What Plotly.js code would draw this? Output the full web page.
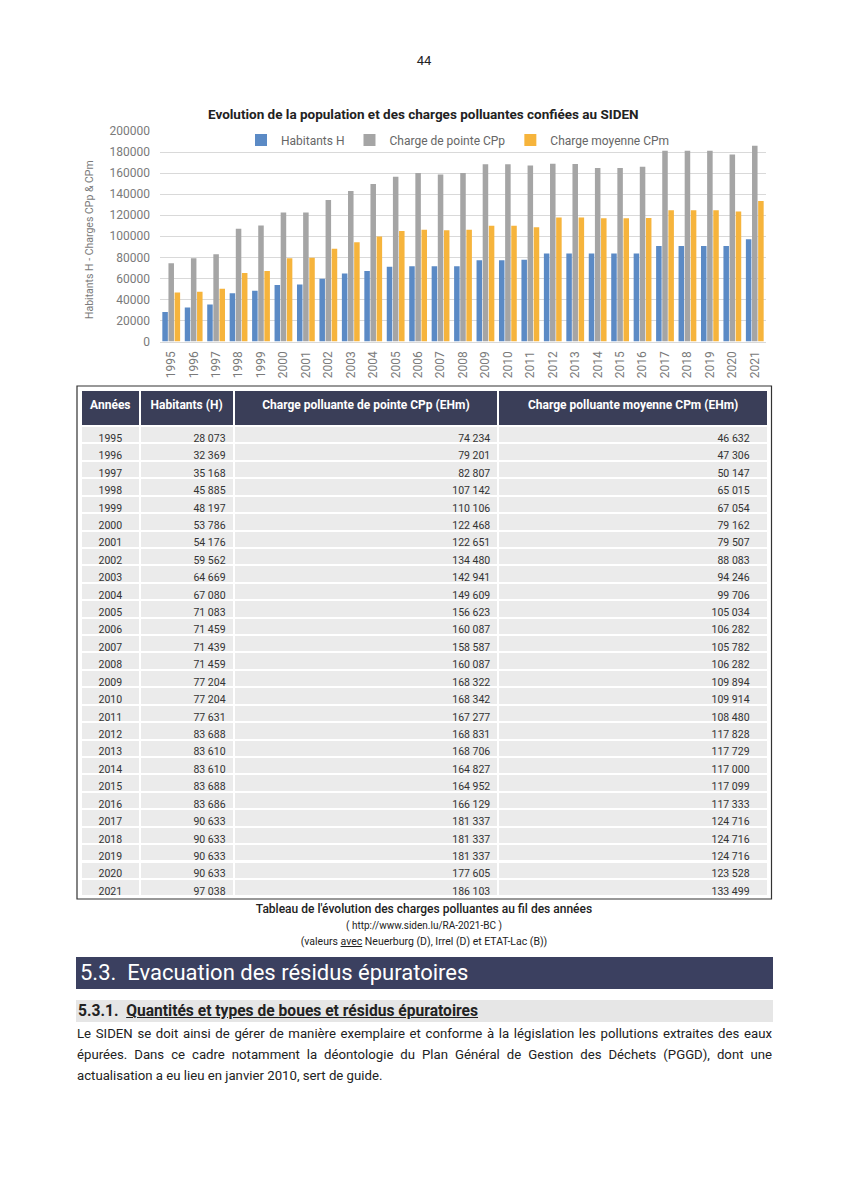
<!DOCTYPE html>
<html>
<head>
<meta charset="utf-8">
<script src="https://cdn.plot.ly/plotly-3.0.1.min.js"></script>
<style>
  html, body { margin: 0; padding: 0; background: #fff; }
  #page { position: relative; width: 848px; height: 1199px; overflow: hidden; font-family: Roboto, "Open Sans", sans-serif; color: #222; }
  #plot { position: absolute; left: 0; top: 0; width: 848px; height: 1199px; }
  .t { position: absolute; white-space: nowrap; }
  .center { left: 0; width: 848px; text-align: center; }
  .bar { position: absolute; }
  .para { position: absolute; left: 77px; width: 695px; font-size: 13.2px; line-height: 21px; color: #222; }
  .just { text-align: justify; text-align-last: justify; white-space: nowrap; }
</style>
</head>
<body>
<div id="page">
  <div id="plot"></div>
  <div class="t center" style="top:53px;font-size:13px;">44</div>
  <div class="t center" style="top:902px;font-size:12px;font-weight:500;">Tableau de l'évolution des charges polluantes au fil des années</div>
  <div class="t center" style="top:920px;font-size:10px;">( http://www.siden.lu/RA-2021-BC )</div>
  <div class="t center" style="top:935px;font-size:10.5px;">(valeurs <u>avec</u> Neuerburg (D), Irrel (D) et ETAT-Lac (B))</div>
  <div class="bar" style="left:76px;top:957px;width:697px;height:32px;background:#3b4060;"></div>
  <div class="t" style="left:80px;top:959px;font-size:22px;color:#fff;line-height:28px;">5.3.&nbsp;&nbsp;Evacuation des résidus épuratoires</div>
  <div class="bar" style="left:76px;top:1000px;width:697px;height:22px;background:#e6e6e6;"></div>
  <div class="t" style="left:78px;top:1001px;font-size:15.6px;font-weight:bold;line-height:21px;">5.3.1.&nbsp;&nbsp;<u>Quantités et types de boues et résidus épuratoires</u></div>
  <div class="para" style="top:1023px;">
    <div class="just">Le SIDEN se doit ainsi de gérer de manière exemplaire et conforme à la législation les pollutions extraites des eaux</div>
    <div class="just">épurées. Dans ce cadre notamment la déontologie du Plan Général de Gestion des Déchets (PGGD), dont une</div>
    <div>actualisation a eu lieu en janvier 2010, sert de guide.</div>
  </div>
</div>
<script>
const years = ['1995','1996','1997','1998','1999','2000','2001','2002','2003','2004','2005','2006','2007','2008','2009','2010','2011','2012','2013','2014','2015','2016','2017','2018','2019','2020','2021'];
const habitants = [28073,32369,35168,45885,48197,53786,54176,59562,64669,67080,71083,71459,71439,71459,77204,77204,77631,83688,83610,83610,83688,83686,90633,90633,90633,90633,97038];
const chargePointe = [74234,79201,82807,107142,110106,122468,122651,134480,142941,149609,156623,160087,158587,160087,168322,168342,167277,168831,168706,164827,164952,166129,181337,181337,181337,177605,186103];
const chargeMoyenne = [46632,47306,50147,65015,67054,79162,79507,88083,94246,99706,105034,106282,105782,106282,109894,109914,108480,117828,117729,117000,117099,117333,124716,124716,124716,123528,133499];
const seriesNames = ['Habitants H','Charge de pointe CPp','Charge moyenne CPm'];
const tableHeaders = ['Années','Habitants (H)','Charge polluante de pointe CPp (EHm)','Charge polluante moyenne CPm (EHm)'];

const fmt = n => n.toString().replace(/\B(?=(\d{3})+(?!\d))/g, '\u00a0');
const pad = s => s + '\u00a0\u00a0\u00a0\u00a0';

const W = 848, H = 1199;
const px = x => x / W;
const py = y => 1 - y / H;

const gridColor = '#d9d9d9';
const tickFont = {family: 'Roboto, sans-serif', size: 12, color: '#7a7a7a'};

const traces = [
  {type: 'bar', x: years, y: habitants, name: seriesNames[0], marker: {color: '#5b8ac5'}, hoverinfo: 'none'},
  {type: 'bar', x: years, y: chargePointe, name: seriesNames[1], marker: {color: '#a5a5a5'}, hoverinfo: 'none'},
  {type: 'bar', x: years, y: chargeMoyenne, name: seriesNames[2], marker: {color: '#f6b43c'}, hoverinfo: 'none'},
  {
    type: 'table',
    domain: {x: [px(81), px(768)], y: [py(898), py(390)]},
    columnwidth: [58, 93, 262, 267],
    header: {
      values: tableHeaders.map(h => '<b>' + h + '</b>'),
      align: 'center',
      height: 36,
      fill: {color: '#3a3e58'},
      line: {color: '#ffffff', width: 2},
      font: {family: 'Roboto, sans-serif', size: 12, color: '#ffffff'}
    },
    cells: {
      values: [years, habitants.map(fmt), chargePointe.map(fmt), chargeMoyenne.map(v => pad(fmt(v)))],
      align: ['center', 'right', 'right', 'right'],
      height: 17.42,
      fill: {color: '#ebebeb'},
      line: {color: '#ffffff', width: 2},
      font: {family: 'Roboto, sans-serif', size: 10.5, color: '#333333'}
    }
  }
];

const layout = {
  width: W, height: H,
  margin: {l: 0, r: 0, t: 0, b: 0},
  paper_bgcolor: '#ffffff', plot_bgcolor: '#ffffff',
  showlegend: true,
  barmode: 'group',
  bargap: 0.18,
  bargroupgap: 0.1,
  font: {family: 'Roboto, sans-serif'},
  xaxis: {
    domain: [px(160), px(766)],
    anchor: 'y',
    type: 'category',
    tickangle: -90,
    tickfont: tickFont,
    showgrid: false,
    showline: true,
    linecolor: gridColor,
    ticks: '',
    ticklabelstandoff: 4,
    fixedrange: true
  },
  yaxis: {
    domain: [py(341.5), py(131)],
    anchor: 'x',
    range: [0, 200000],
    tickvals: [0,20000,40000,60000,80000,100000,120000,140000,160000,180000,200000],
    ticktext: ['0','20000','40000','60000','80000','100000','120000','140000','160000','180000','200000'],
    tickfont: tickFont,
    showgrid: true,
    gridcolor: gridColor,
    gridwidth: 1,
    zeroline: false,
    showline: false,
    ticks: '',
    ticklabelstandoff: 9,
    fixedrange: true
  },
  legend: {
    orientation: 'h',
    x: px(458), xanchor: 'center',
    y: py(140), yanchor: 'middle',
    font: {family: 'Roboto, sans-serif', size: 12, color: '#666666'},
    bgcolor: 'rgba(255,255,255,0)',
    itemwidth: 30,
    traceorder: 'normal'
  },
  annotations: [
    {text: '<b>Evolution de la population et des charges polluantes confiées au SIDEN</b>', xref: 'paper', yref: 'paper',
     x: px(423), y: py(114), xanchor: 'center', yanchor: 'middle', showarrow: false,
     font: {family: 'Roboto, sans-serif', size: 13.5, color: '#222222'}},
    {text: 'Habitants H - Charges CPp & CPm', xref: 'paper', yref: 'paper', textangle: -90,
     x: px(90), y: py(240), xanchor: 'center', yanchor: 'middle', showarrow: false,
     font: {family: 'Roboto, sans-serif', size: 10.5, color: '#7a7a7a'}}
  ],
  shapes: [
    {type: 'rect', xref: 'paper', yref: 'paper', x0: px(77), x1: px(771.5), y0: py(899), y1: py(386),
     line: {color: '#333333', width: 1.2}, fillcolor: 'rgba(0,0,0,0)'}
  ]
};

Plotly.newPlot('plot', traces, layout, {staticPlot: true, displayModeBar: false});
</script>
</body>
</html>
